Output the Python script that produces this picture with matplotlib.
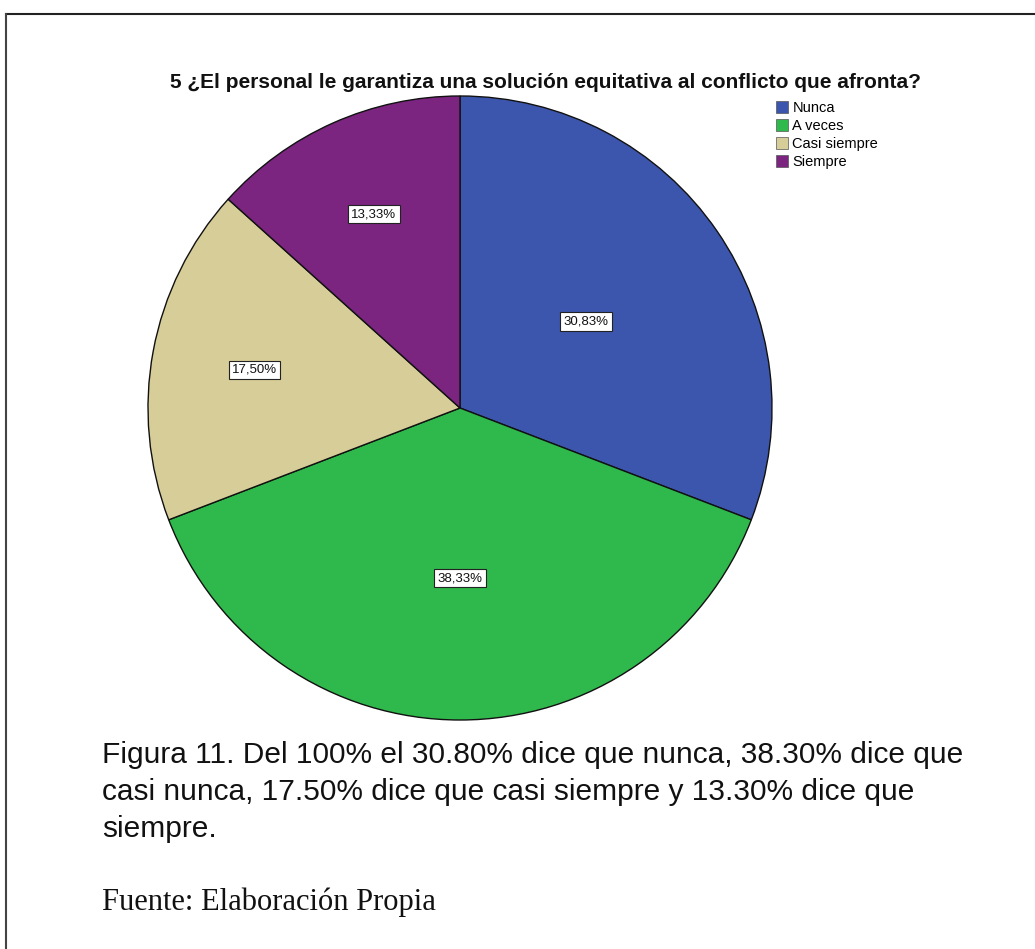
import matplotlib.pyplot as plt
from matplotlib.lines import Line2D
import numpy as np

categories = ["Nunca", "A veces", "Casi siempre", "Siempre"]
percentages = [30.83, 38.33, 17.50, 13.33]
slice_colors = ["#3d56ad", "#2fb84b", "#d6cd98", "#7b2480"]
# how far from the centre each percent box sits (fraction of radius)
label_dist = [0.49, 0.545, 0.67, 0.68]

title = "5 ¿El personal le garantiza una solución equitativa al conflicto que afronta?"
caption_lines = [
    "Figura 11. Del 100% el 30.80% dice que nunca, 38.30% dice que",
    "casi nunca, 17.50% dice que casi siempre y 13.30% dice que",
    "siempre.",
]
source = "Fuente: Elaboración Propia"

W, H = 1035, 949
fig = plt.figure(figsize=(W / 100, H / 100), dpi=100)
fig.patch.set_facecolor("white")

# pie axes in pixel units: centre (460, 408), radius 312
cx, cy, r = 460, 408, 312
ax = fig.add_axes([(cx - r) / W, 1 - (cy + r) / H, 2 * r / W, 2 * r / H])
wedges, _ = ax.pie(
    percentages,
    colors=slice_colors,
    startangle=90,
    counterclock=False,
    radius=1.0,
    wedgeprops=dict(edgecolor="#111111", linewidth=1.0),
)
ax.set_xlim(-1, 1)
ax.set_ylim(-1, 1)
ax.set_aspect("equal")
ax.axis("off")

for w, pct, d in zip(wedges, percentages, label_dist):
    mid = np.deg2rad((w.theta1 + w.theta2) / 2)
    ax.text(d * np.cos(mid), d * np.sin(mid), f"{pct:.2f}%".replace(".", ","),
            ha="center", va="center", fontsize=9.5, family="Liberation Sans",
            color="#111111",
            bbox=dict(boxstyle="square,pad=0.25", fc="white", ec="#222222", lw=0.8))

fig.text(170 / W, 1 - 83 / H, title, ha="left", va="center",
         fontsize=15, fontweight="bold", family="Liberation Sans", color="#111111")

handles = [Line2D([0], [0], marker="s", linestyle="none", markersize=8,
                  markerfacecolor=c, markeredgecolor="#555555", markeredgewidth=0.5)
           for c in slice_colors]
fig.legend(handles, categories, loc="upper left",
           bbox_to_anchor=(775 / W, 1 - 101 / H), frameon=False,
           prop=dict(family="Liberation Sans", size=10.5), handlelength=0.9,
           handletextpad=0.3, labelspacing=0.28, borderpad=0, borderaxespad=0)

# caption lines, placed by baseline
for i, line in enumerate(caption_lines):
    fig.text(102 / W, 1 - (763 + 37 * i) / H, line, ha="left", va="baseline",
             fontsize=21.5, family="Liberation Sans", color="#111111")
fig.text(102 / W, 1 - 910 / H, source, ha="left", va="baseline", fontsize=22,
         family="Liberation Serif", color="#111111")

# page frame: top and left rules
fig.add_artist(Line2D([6 / W, 1], [1 - 14 / H, 1 - 14 / H], color="#222222", lw=1.5,
                      transform=fig.transFigure))
fig.add_artist(Line2D([6 / W, 6 / W], [0, 1 - 14 / H], color="#444444", lw=1.5,
                      transform=fig.transFigure))

fig.savefig("out.png", dpi=100, facecolor="white")
